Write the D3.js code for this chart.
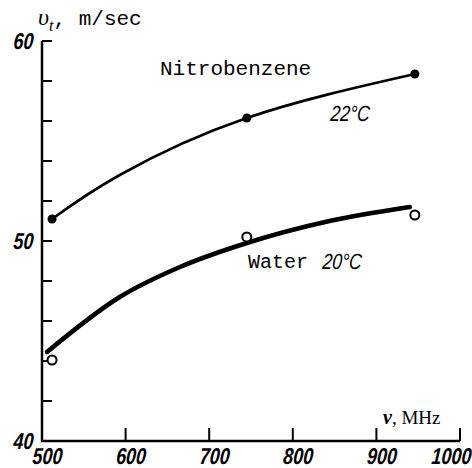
<!DOCTYPE html>
<html><head><meta charset="utf-8">
<script src="https://cdn.jsdelivr.net/npm/d3@7"></script>
<style>html,body{margin:0;padding:0;background:#fff;}svg{display:block;}</style>
</head><body>
<svg id="chart" width="472" height="468"></svg>
<script>
// Measured points (MHz, m/sec)
const nitroFreq = [512, 745, 946];
const nitroVel  = [51.1, 56.15, 58.35];
const waterFreq = [512, 745, 946];
const waterVel  = [44.05, 50.2, 51.3];
// Fitted curves as drawn in the figure
const nitroCurveFreq = [512, 593, 745, 946];
const nitroCurveVel  = [51.1, 53.3, 56.15, 58.35];
const waterCurveFreq = [506, 593, 665, 745, 844, 940];
const waterCurveVel  = [44.45, 47.2, 48.7, 49.9, 51.0, 51.7];
// Axis ticks
const xTicks = [500, 600, 700, 800, 900, 1000];
const yTicks = [42, 44, 46, 48, 50, 52, 54, 56, 58, 60];
const yLabels = [40, 50, 60];

const svg = d3.select("#chart");
const x = d3.scaleLinear().domain([500, 1000]).range([42, 460]);
const y = d3.scaleLinear().domain([40, 60]).range([441, 41]);

const numFont = "'Liberation Sans', Arial, sans-serif";
const monoFont = "'Liberation Mono', 'DejaVu Sans Mono', monospace";
const serifFont = "'Liberation Serif', 'DejaVu Serif', serif";

// Axes lines
svg.append("line").attr("x1", x(500)).attr("x2", x(500)).attr("y1", y(60)).attr("y2", y(40))
  .attr("stroke", "#000").attr("stroke-width", 2.5);
svg.append("line").attr("x1", x(500) - 1).attr("x2", x(1000)).attr("y1", y(40)).attr("y2", y(40))
  .attr("stroke", "#000").attr("stroke-width", 2.5);

// y ticks (inward)
svg.selectAll(".yt").data(yTicks).enter().append("line")
  .attr("x1", x(500)).attr("x2", x(500) + 10)
  .attr("y1", d => y(d)).attr("y2", d => y(d))
  .attr("stroke", "#000").attr("stroke-width", 2);
// x ticks (upward)
svg.selectAll(".xt").data(xTicks.slice(1)).enter().append("line")
  .attr("x1", d => x(d)).attr("x2", d => x(d))
  .attr("y1", y(40)).attr("y2", y(40) - 13)
  .attr("stroke", "#000").attr("stroke-width", 2);

// condensed italic numerals
function condText(g, px, py, txt, anchor, size, sx, weight) {
  g.append("text")
    .attr("transform", `translate(${px},${py}) scale(${sx},1) skewX(-6)`)
    .attr("text-anchor", anchor)
    .attr("font-family", numFont).attr("font-style", "italic").attr("font-weight", weight || "bold")
    .attr("font-size", size).attr("fill", "#000")
    .text(txt);
}
xTicks.forEach((d, i) => {
  if (i === xTicks.length - 1) condText(svg, 471, 464, d, "end", 23, 0.78);
  else condText(svg, x(d) + 5, 464, d, "middle", 23, 0.78);
});
yLabels.forEach(d => condText(svg, 33, y(d) + 8, d, "end", 23, 0.78));

// curves
const line = d3.line().x(d => x(d[0])).y(d => y(d[1])).curve(d3.curveNatural);
const nitroCurve = nitroCurveFreq.map((f, i) => [f, nitroCurveVel[i]]);
const waterCurve = waterCurveFreq.map((f, i) => [f, waterCurveVel[i]]);
svg.append("path").attr("d", line(nitroCurve)).attr("fill", "none")
  .attr("stroke", "#000").attr("stroke-width", 2.6).attr("stroke-linecap", "round");
svg.append("path").attr("d", line.curve(d3.curveMonotoneX)(waterCurve)).attr("fill", "none")
  .attr("stroke", "#000").attr("stroke-width", 4.6).attr("stroke-linecap", "round");

// points
svg.selectAll(".np").data(nitroFreq).enter().append("circle")
  .attr("cx", d => x(d)).attr("cy", (d, i) => y(nitroVel[i])).attr("r", 4.5).attr("fill", "#000");
svg.selectAll(".wp").data(waterFreq).enter().append("circle")
  .attr("cx", d => x(d)).attr("cy", (d, i) => y(waterVel[i])).attr("r", 4.5)
  .attr("fill", "#fff").attr("stroke", "#000").attr("stroke-width", 2);

// labels
svg.append("text").attr("x", 160).attr("y", 75).attr("font-family", monoFont)
  .attr("font-size", 21).attr("fill", "#000").text("Nitrobenzene");
condText(svg, 330, 121, "22°C", "start", 22, 0.8, "normal");
svg.append("text").attr("x", 248).attr("y", 268).attr("font-family", monoFont)
  .attr("font-size", 20).attr("fill", "#000").text("Water");
condText(svg, 322, 269, "20°C", "start", 22, 0.8, "normal");

// y axis title
const yt = svg.append("text").attr("x", 38).attr("y", 25).attr("fill", "#000");
yt.append("tspan").attr("font-family", serifFont).attr("font-style", "italic").attr("font-size", 24).text("υ");
yt.append("tspan").attr("font-family", serifFont).attr("font-style", "italic").attr("font-size", 16)
  .attr("dy", 6).text("t");
yt.append("tspan").attr("font-family", monoFont).attr("font-size", 21).attr("dy", -6).attr("dx", 0).text(", m/sec");

// x axis title
const xt = svg.append("text").attr("x", 383).attr("y", 424).attr("fill", "#000");
xt.append("tspan").attr("font-family", serifFont).attr("font-style", "italic").attr("font-weight", "bold")
  .attr("font-size", 20).text("ν");
xt.append("tspan").attr("font-family", serifFont).attr("font-size", 19).text(", MHz");
</script>
</body></html>
